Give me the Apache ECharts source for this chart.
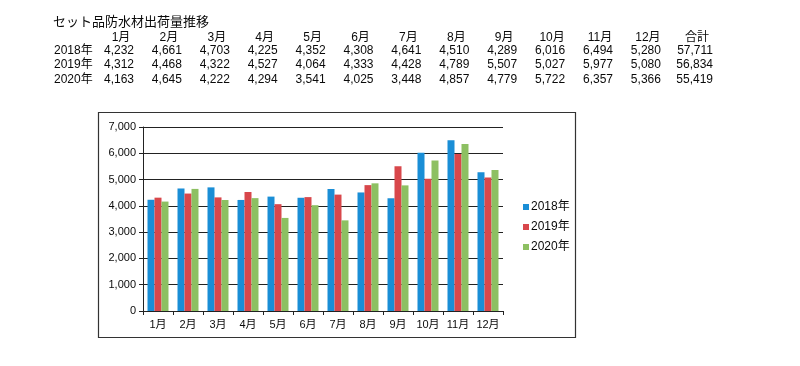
<!DOCTYPE html>
<html><head><meta charset="utf-8">
<script src="https://cdn.jsdelivr.net/npm/echarts@6/dist/echarts.min.js"></script>
<style>html,body{margin:0;padding:0;background:#fff}#c{width:800px;height:366px}</style>
</head><body><div id="c"></div>
<script>
const title = 'セット品防水材出荷量推移';
const months = ['1月','2月','3月','4月','5月','6月','7月','8月','9月','10月','11月','12月'];
const totalLabel = '合計';
const years = ['2018年','2019年','2020年'];
const s2018 = [4232,4661,4703,4225,4352,4308,4641,4510,4289,6016,6494,5280];
const s2019 = [4312,4468,4322,4527,4064,4333,4428,4789,5507,5027,5977,5080];
const s2020 = [4163,4645,4222,4294,3541,4025,3448,4857,4779,5722,6357,5366];
const totals = [57711,56834,55419];
const colors = ['#1a8ed6','#d8474b','#8dc062'];

const FONT = '"Liberation Sans","Noto Sans CJK JP",sans-serif';
const fmt = v => v.toLocaleString('en-US');
const chart = echarts.init(document.getElementById('c'), null, {renderer:'canvas'});

const g = [];
const txt = (x,y,t,align,size) => ({type:'text', x:x, y:y, style:{text:t, font:(size||12)+'px '+FONT, fill:'#0a0a0a', textAlign:align, textVerticalAlign:'middle'}});
g.push(txt(53, 22.5, title, 'left', 13));
const colRight = i => 134 + i*47.9;
const totalRight = 713;
const headerY = 37.5, rowY = [50.5, 65, 79.5];
months.forEach((m,i)=>{ g.push(txt(colRight(i)-13, headerY, m, 'center')); });
g.push(txt(totalRight-16, headerY, totalLabel, 'center'));
[s2018,s2019,s2020].forEach((arr,r)=>{
  g.push(txt(54, rowY[r], years[r], 'left'));
  arr.forEach((v,i)=>{ g.push(txt(colRight(i), rowY[r], fmt(v), 'right')); });
  g.push(txt(totalRight, rowY[r], fmt(totals[r]), 'right'));
});
g.push({type:'rect', shape:{x:98.5, y:112.5, width:477, height:225}, style:{fill:'none', stroke:'#333', lineWidth:1.2}, z:-1});

const seriesData = [s2018,s2019,s2020];
chart.setOption({
  animation:false,
  textStyle:{fontFamily:FONT},
  grid:{left:143, top:127, width:360, height:184},
  legend:{orient:'vertical', left:518, top:196, itemWidth:6, itemHeight:6, itemGap:8, icon:'rect',
    textStyle:{fontSize:12, color:'#0a0a0a', fontFamily:FONT, padding:[0,0,0,-3]}, data:years},
  xAxis:{type:'category', data:months,
    axisLine:{lineStyle:{color:'#222', width:1}},
    axisTick:{show:true, alignWithLabel:false, interval:0, length:4, lineStyle:{color:'#222'}},
    axisLabel:{color:'#0a0a0a', fontSize:11, margin:8, interval:0, fontFamily:FONT}},
  yAxis:{type:'value', min:0, max:7000, interval:1000,
    axisLine:{show:true, lineStyle:{color:'#222'}},
    axisTick:{show:true, length:4, lineStyle:{color:'#222'}},
    splitLine:{lineStyle:{color:'#222', width:1}},
    axisLabel:{color:'#0a0a0a', fontSize:11, margin:7, fontFamily:FONT, formatter:v=>fmt(v)}},
  series: years.map((y,i)=>({name:y, type:'bar', data:seriesData[i], barWidth:7, barGap:'0%',
    itemStyle:{color:colors[i]}})),
  graphic:g
});
</script></body></html>
